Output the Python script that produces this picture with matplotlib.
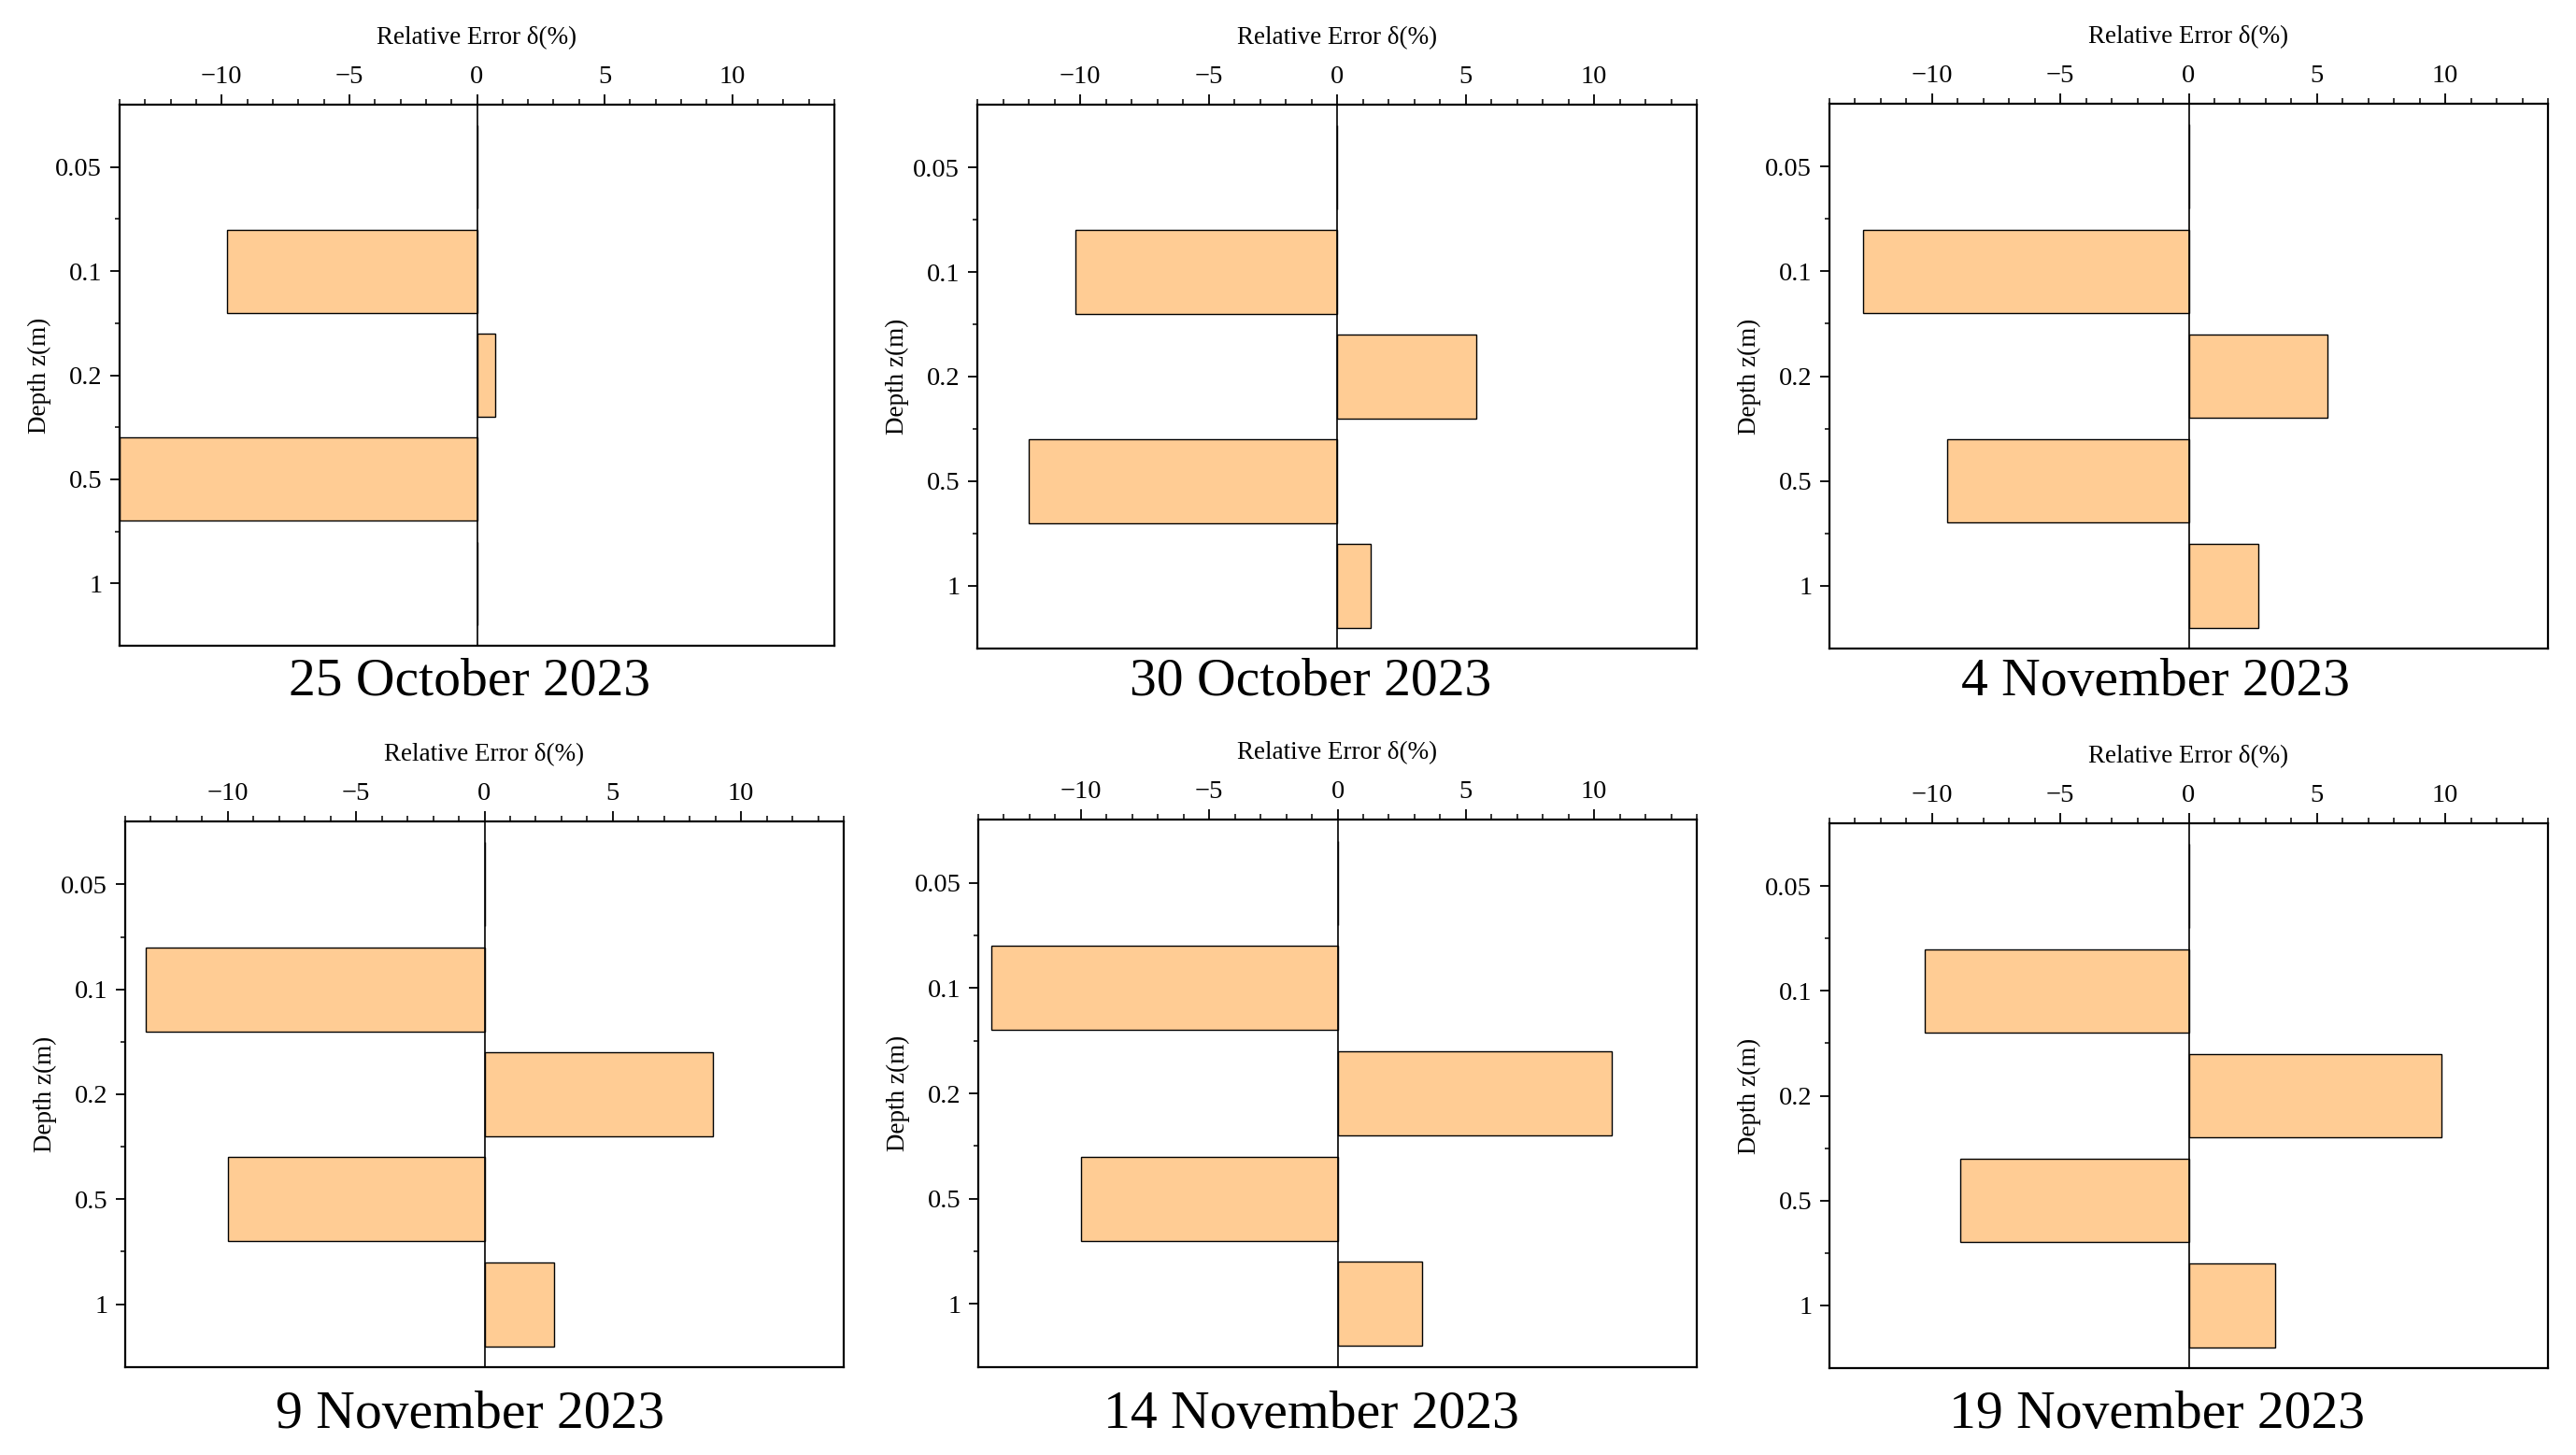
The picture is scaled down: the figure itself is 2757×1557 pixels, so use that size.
import numpy as np
import matplotlib
matplotlib.use("Agg")
import matplotlib.pyplot as plt
from matplotlib.ticker import MultipleLocator, FixedLocator

plt.rcParams['font.family'] = ['Liberation Serif', 'DejaVu Serif']
plt.rcParams['axes.unicode_minus'] = True

# depth levels (categorical, top to bottom)
depths = ['0.05', '0.1', '0.2', '0.5', '1']

# relative error (%) per depth
err_oct25 = [0.0, -9.8, 0.7, -14.0, 0.0]
err_oct30 = [0.0, -10.2, 5.4, -12.0, 1.3]
err_nov04 = [0.0, -12.7, 5.4, -9.4, 2.7]
err_nov09 = [0.0, -13.2, 8.9, -10.0, 2.7]
err_nov14 = [0.0, -13.5, 10.7, -10.0, 3.3]
err_nov19 = [0.0, -10.3, 9.85, -8.9, 3.35]

dates = ['25 October 2023', '30 October 2023', '4 November 2023',
         '9 November 2023', '14 November 2023', '19 November 2023']
series = [err_oct25, err_oct30, err_nov04, err_nov09, err_nov14, err_nov19]

W, H = 2757, 1557
BAR_COLOR = '#FFCC94'

# panel boxes in pixels: left, top, right, bottom
boxes = [
    (128, 112, 893, 691),
    (1046, 112, 1816, 694),
    (1958, 111, 2727, 694),
    (134, 879, 903, 1463),
    (1047, 877, 1816, 1463),
    (1958, 881, 2727, 1464),
]
# date captions: centre x and baseline y in pixels
title_x = [503, 1403, 2307, 503, 1403, 2308]
title_base = [744, 744, 744, 1528, 1528, 1528]

fig = plt.figure(figsize=(W / 100, H / 100), dpi=100)

ypos = np.arange(len(depths))
for i, (vals, date) in enumerate(zip(series, dates)):
    l, t, r, b = boxes[i]
    ax = fig.add_axes([l / W, 1 - b / H, (r - l) / W, (b - t) / H])

    ax.barh(ypos, vals, height=0.8, color=BAR_COLOR, edgecolor='black',
            linewidth=1.0, zorder=2)
    ax.axvline(0, color='black', linewidth=1.2, zorder=3)

    ax.set_xlim(-14, 14)
    ax.set_ylim(4.6, -0.6)

    ax.xaxis.tick_top()
    ax.xaxis.set_label_position('top')
    ax.xaxis.set_major_locator(FixedLocator([-10, -5, 0, 5, 10]))
    ax.xaxis.set_minor_locator(MultipleLocator(1))
    ax.set_yticks(ypos)
    ax.set_yticklabels(depths)
    ax.yaxis.set_minor_locator(FixedLocator([0.5, 1.5, 2.5, 3.5]))

    ax.tick_params(axis='x', which='major', direction='out', length=8,
                   width=1.3, labelsize=20.5, pad=4, top=True, bottom=False)
    ax.tick_params(axis='x', which='minor', direction='out', length=4.2,
                   width=1.1, top=True, bottom=False)
    ax.tick_params(axis='y', which='major', direction='out', length=7.5,
                   width=1.3, labelsize=20.5, pad=6, left=True, right=False)
    ax.tick_params(axis='y', which='minor', direction='out', length=3.5,
                   width=1.1, left=True, right=False)

    for sp in ax.spines.values():
        sp.set_linewidth(1.6)

    ax.set_xlabel('Relative Error δ(%)', fontsize=19.5, labelpad=17)
    ax.set_ylabel('Depth z(m)', fontsize=19.5, labelpad=3)

    fig.text(title_x[i] / W, 1 - title_base[i] / H, date, fontsize=41.5,
             ha='center', va='baseline')

fig.savefig('out.png', dpi=100)
